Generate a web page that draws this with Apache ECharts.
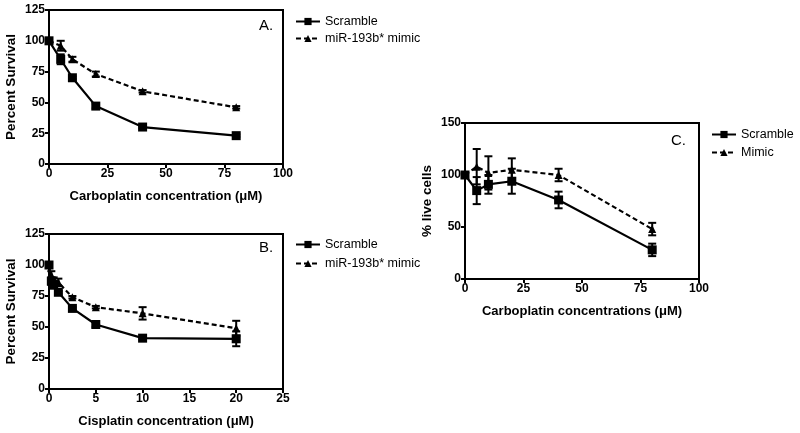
<!DOCTYPE html>
<html><head><meta charset="utf-8">
<script src="https://cdn.jsdelivr.net/npm/echarts@6/dist/echarts.min.js"></script>
<style>html,body{margin:0;padding:0;background:#fff}#c{width:800px;height:433px}</style>
</head><body><div id="c"></div>
<script>
// Panel A: carboplatin
const aX = [0, 5, 10, 20, 40, 80];
const aScramble = [100, 85, 70, 47, 30, 23];
const aScrambleErr = [0, 4, 1, 2, 1, 1];
const aMimic = [100, 96, 85, 73, 59, 46];
const aMimicErr = [0, 4, 2, 2, 1, 1];
// Panel B: cisplatin
const bX = [0, 0.25, 0.5, 1, 2.5, 5, 10, 20];
const bScramble = [100, 87, 84, 78, 65, 52, 41, 40.5];
const bScrambleErr = [0, 3, 3, 1, 1, 2, 1, 6];
const bMimic = [100, 92, 88, 86, 74, 66, 61, 49];
const bMimicErr = [0, 3, 2, 3, 1, 1, 5, 6];
// Panel C: carboplatin, live cells
const cX = [0, 5, 10, 20, 40, 80];
const cScramble = [100, 85, 91, 94, 76, 28];
const cScrambleErr = [0, 13, 9, 12, 8, 6];
const cMimic = [100, 108, 102, 105, 100, 48];
const cMimicErr = [0, 17, 16, 11, 6, 6];

const FONT = 'Liberation Sans, Arial, sans-serif';
const chart = echarts.init(document.getElementById('c'), null, {renderer: 'canvas'});

function pts(xs, ys) { return xs.map((x, i) => [x, ys[i]]); }
function errData(xs, ys, es) { return xs.map((x, i) => [x, ys[i] - es[i], ys[i] + es[i]]); }

function errSeries(name, idx, xs, ys, es) {
  return {
    type: 'custom', name: name, xAxisIndex: idx, yAxisIndex: idx, z: 5,
    data: errData(xs, ys, es),
    renderItem: function (params, api) {
      const lo = api.coord([api.value(0), api.value(1)]);
      const hi = api.coord([api.value(0), api.value(2)]);
      const w = 4;
      const st = {stroke: '#000', lineWidth: 2};
      return {type: 'group', children: [
        {type: 'line', shape: {x1: hi[0], y1: hi[1], x2: lo[0], y2: lo[1]}, style: st},
        {type: 'line', shape: {x1: hi[0] - w, y1: hi[1], x2: hi[0] + w, y2: hi[1]}, style: st},
        {type: 'line', shape: {x1: lo[0] - w, y1: lo[1], x2: lo[0] + w, y2: lo[1]}, style: st}
      ]};
    }
  };
}
function lineSeries(name, idx, xs, ys, dashed) {
  return {
    type: 'line', name: name, xAxisIndex: idx, yAxisIndex: idx, z: 4,
    data: pts(xs, ys),
    symbol: dashed ? 'triangle' : 'rect',
    symbolSize: dashed ? 8 : 9,
    showSymbol: true,
    itemStyle: {color: '#000'},
    lineStyle: {color: '#000', width: 2.2, type: dashed ? [5, 3] : 'solid'},
    emphasis: {disabled: true},
    animation: false
  };
}

const axLabel = {color: '#000', fontFamily: FONT, fontWeight: 'bold', fontSize: 12, margin: 4};
const axLine = {show: true, lineStyle: {color: '#000', width: 2}};
const axTick = {show: true, length: 4, lineStyle: {color: '#000', width: 2}};
const nameStyle = {color: '#000', fontFamily: FONT, fontWeight: 'bold', fontSize: 13};

function xAx(idx, max, interval, name) {
  return {type: 'value', gridIndex: idx, min: 0, max: max, interval: interval,
    axisLine: axLine, axisTick: axTick, axisLabel: axLabel, splitLine: {show: false},
    name: name, nameLocation: 'middle', nameGap: 26, nameTextStyle: nameStyle};
}
function yAx(idx, max, interval, name, gap) {
  return {type: 'value', gridIndex: idx, min: 0, max: max, interval: interval,
    axisLine: axLine, axisTick: axTick, axisLabel: axLabel, splitLine: {show: false},
    name: name, nameLocation: 'middle', nameGap: gap, nameTextStyle: Object.assign({}, nameStyle, {fontSize: 13.5})};
}

const legText = {color: '#000', fontFamily: FONT, fontSize: 12.5};
function legend(left, top, names, gap) {
  return {left: left, top: top, orient: 'vertical', padding: 0, itemWidth: 24, itemHeight: 9, itemGap: gap,
    textStyle: legText, data: names, selectedMode: false};
}

chart.setOption({
  animation: false,
  backgroundColor: '#fff',
  textStyle: {fontFamily: FONT},
  grid: [
    {left: 49, top: 10, width: 234, height: 154, show: true, borderColor: '#000', borderWidth: 2},
    {left: 49, top: 234, width: 234, height: 155, show: true, borderColor: '#000', borderWidth: 2},
    {left: 465, top: 123, width: 234, height: 156, show: true, borderColor: '#000', borderWidth: 2}
  ],
  xAxis: [
    xAx(0, 100, 25, 'Carboplatin concentration (\u03bcM)'),
    xAx(1, 25, 5, 'Cisplatin concentration (\u03bcM)'),
    xAx(2, 100, 25, 'Carboplatin concentrations (\u03bcM)')
  ],
  yAxis: [
    yAx(0, 125, 25, 'Percent Survival', 31),
    yAx(1, 125, 25, 'Percent Survival', 31),
    yAx(2, 150, 50, '% live cells', 31)
  ],
  legend: [
    legend(295, 15, ['Scramble', 'miR-193b* mimic'], 4),
    legend(295, 238, ['Scramble', 'miR-193b* mimic'], 6),
    legend(711, 128, ['Scramble', 'Mimic'], 5)
  ],
  graphic: [
    {type: 'text', left: 259, top: 18, style: {text: 'A.', font: '15px ' + FONT, fill: '#000'}},
    {type: 'text', left: 259, top: 240, style: {text: 'B.', font: '15px ' + FONT, fill: '#000'}},
    {type: 'text', left: 671, top: 133, style: {text: 'C.', font: '15px ' + FONT, fill: '#000'}}
  ],
  series: [
    errSeries('eA1', 0, aX, aScramble, aScrambleErr),
    errSeries('eA2', 0, aX, aMimic, aMimicErr),
    lineSeries('Scramble', 0, aX, aScramble, false),
    lineSeries('miR-193b* mimic', 0, aX, aMimic, true),
    errSeries('eB1', 1, bX, bScramble, bScrambleErr),
    errSeries('eB2', 1, bX, bMimic, bMimicErr),
    lineSeries('Scramble', 1, bX, bScramble, false),
    lineSeries('miR-193b* mimic', 1, bX, bMimic, true),
    errSeries('eC1', 2, cX, cScramble, cScrambleErr),
    errSeries('eC2', 2, cX, cMimic, cMimicErr),
    lineSeries('Scramble', 2, cX, cScramble, false),
    lineSeries('Mimic', 2, cX, cMimic, true)
  ]
});
</script>
</body></html>
